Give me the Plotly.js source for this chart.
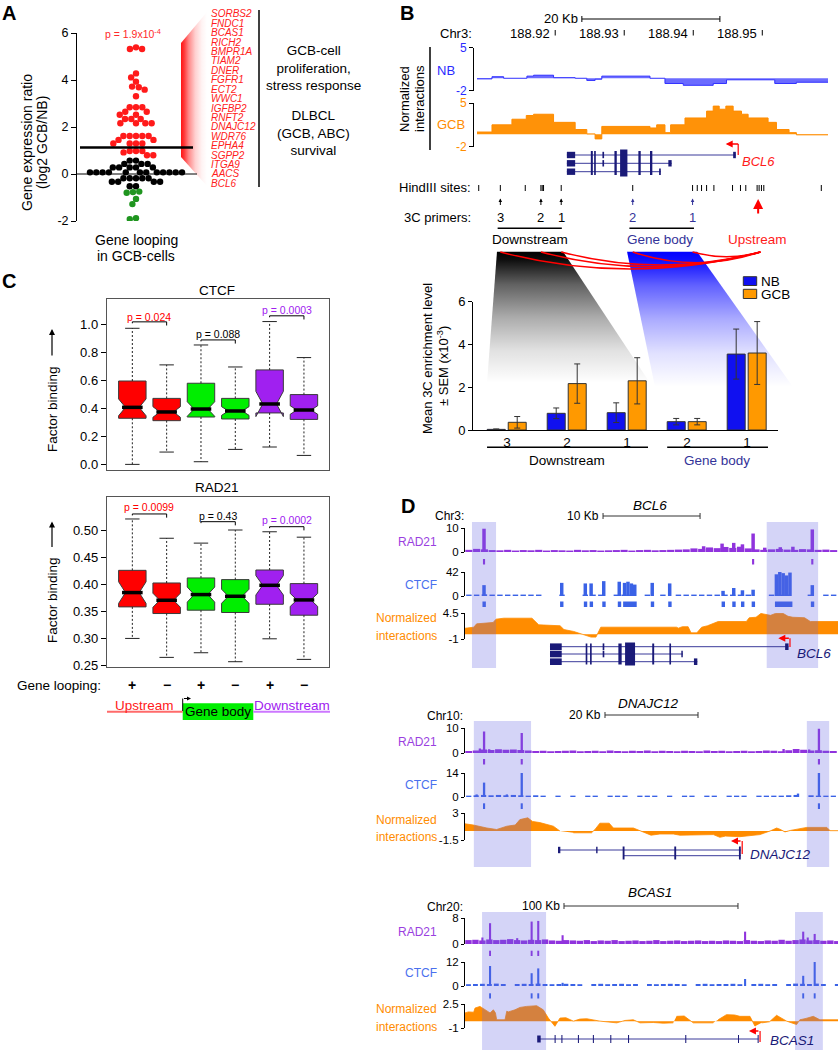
<!DOCTYPE html>
<html>
<head>
<meta charset="utf-8">
<script src="https://cdn.plot.ly/plotly-3.0.1.min.js"></script>
<style>
html,body{margin:0;padding:0;background:#ffffff;}
#chart{width:838px;height:1050px;}
</style>
</head>
<body>
<div id="chart"></div>
<script>
// ======================= DATA =======================
// ---- Panel A: gene expression ratio (log2 GCB/NB) of genes looping in GCB cells
const aRedValues = [5.39,5.32,5.32,4.28,4.11,3.93,3.72,3.69,3.59,3.31,2.84,2.84,2.84,2.65,2.65,2.52,2.52,2.34,2.34,2.34,2.16,2.16,2.16,2.16,1.62,1.62,1.62,1.62,1.62,1.45,1.45,1.3,1.3,1.3,1.3,0.98,0.98,0.98,0.92,0.8,0.8];
const aBlackValues = [0.57,0.57,0.43,0.43,0.43,0.28,0.28,0.28,0.28,0.28,0.07,0.07,0.07,0.07,0.07,0.07,0.07,0.07,0.07,0.07,0.07,0.07,-0.18,-0.18,-0.18,-0.18,-0.18,-0.33,-0.33,-0.33,-0.33,-0.52,-0.52];
const aGreenValues = [-0.75,-0.77,-0.8,-1.06,-1.28,-1.88,-1.92];
const aThreshold = 1.13;
const aYTicks = [-2,0,2,4,6];
const aGenes = ['SORBS2','FNDC1','BCAS1','RICH2','BMPR1A','TIAM2','DNER','FGFR1','ECT2','WWC1','IGFBP2','RNFT2','DNAJC12','WDR76','EPHA4','SGPP2','ITGA9','AACS','BCL6'];

// ---- Panel B (top): normalized interactions at BCL6 locus (Chr3, Mb)
const bCoordTicks = [188.92,188.93,188.94,188.95];
const bNbStarts = [188.90867,188.91084,188.91253,188.91590,188.91687,188.91976,188.92289,188.92458,188.92578,188.92675,188.93373,188.93590,188.93855,188.94289,188.94482,188.95181,188.95494];
const bNbValues = [-0.1,0.25,0.0,0.35,0.5,0.1,0.0,-0.35,-0.15,0.35,0.0,-0.85,-1.15,-0.85,-0.25,-0.85,-0.65];
const bGcbStarts = [188.90867,188.91084,188.91373,188.91581,188.91687,188.91976,188.92289,188.92458,188.92578,188.92675,188.93373,188.93470,188.93590,188.93672,188.93880,188.94193,188.94289,188.94376,188.94472,188.94578,188.94699,188.94795,188.95084,188.95205,188.95388,188.95494];
const bGcbValues = [0.35,1.5,2.4,3.0,3.2,1.9,0.75,0.05,-0.75,1.25,1.0,1.5,0.25,1.5,2.6,3.7,4.5,4.0,4.5,3.7,3.2,2.6,1.9,0.75,0.25,-0.1];
const bTrackEnd = 188.95952;
const bHindIII = [188.90892,188.91205,188.91566,188.91793,188.91812,188.91831,188.92087,188.93123,188.93990,188.94058,188.94120,188.94193,188.94299,188.94569,188.94684,188.94761,188.94925,188.94954,188.94988,188.95022,188.95855];
const bPrimersDown = [188.91205,188.91793,188.92087];
const bPrimersDownLab = ['3','2','1'];
const bPrimersBody = [188.93123,188.93990];
const bPrimersBodyLab = ['2','1'];
const bPrimerUp = 188.94940;
const bGeneStart = 188.92169;
const bGeneRowEnds = [188.94617,188.93687,188.93530];
const bGeneTallExons = [[188.92516,188.92545],[188.92564,188.92588],[188.92858,188.92892],[188.92940,188.93046],[188.93205,188.93239],[188.93373,188.93407]];
const bGeneRowExons = [[[188.92169,188.92289],[188.92684,188.92708],[188.94578,188.94617]],[[188.92169,188.92289],[188.92684,188.92708],[188.93639,188.93687]],[[188.92169,188.92289],[188.93505,188.93530]]];

// ---- Panel B (bottom): mean 3C enrichment (x10^-3) +- SEM
const bBarCats = ['3','2','1','2','1'];
const bNbMean = [0.03,0.78,0.81,0.39,3.55];
const bNbSem = [0.02,0.25,0.46,0.15,1.17];
const bGcbMean = [0.36,2.17,2.30,0.39,3.60];
const bGcbSem = [0.27,0.92,1.08,0.15,1.47];

// ---- Panel C: factor binding box plots
const cLooping = ['+','\u2212','+','\u2212','+','\u2212'];
const ctcfQ1 = [0.329,0.312,0.338,0.324,0.367,0.321];
const ctcfMed = [0.407,0.374,0.395,0.381,0.431,0.388];
const ctcfQ3 = [0.595,0.471,0.579,0.471,0.674,0.498];
const ctcfLow = [0.0,0.088,0.019,0.107,0.124,0.064];
const ctcfHigh = [0.971,0.710,0.852,0.695,1.019,0.762];
const ctcfNotch = [0.06,0.038,0.052,0.031,0.09,0.03];
const ctcfPvals = ['p = 0.024','p = 0.088','p = 0.0003'];
const radQ1 = [0.3589,0.3466,0.3528,0.3485,0.3638,0.3435];
const radMed = [0.3854,0.3712,0.3817,0.3786,0.3989,0.3718];
const radQ3 = [0.4266,0.4032,0.4125,0.4094,0.4272,0.4020];
const radLow = [0.3005,0.2654,0.2740,0.2574,0.2998,0.2617];
const radHigh = [0.5217,0.4860,0.4770,0.5013,0.4980,0.4880];
const radNotch = [0.02,0.013,0.014,0.013,0.018,0.012];
const radPvals = ['p = 0.0099','p = 0.43','p = 0.0002'];

// ---- Panel D: BCL6 locus (kb from track start)
const d1RadBg = [0.9,1.3,1.1,0.8,0.7,0.9,0.6,0.8,0.7,0.9,0.6,0.8,0.7,0.6,0.9,0.7,0.8,0.6,0.7,0.8,0.9,0.6,0.8,0.9,0.7,0.8,0.9,1.0,1.1,1.5,1.3,1.9,1.6,2.1,1.7,2.2,1.5,1.1,0.9,1.1,1.3,1.0,0.9,1.2,1.1,0.9,1.0,0.8];
const d1RadPkX = [1.96,24.6,26.5,27.7,28.6,29.7,30.9,32.5,33.8,35.8];
const d1RadPkY = [9.7,2.4,3.5,3.8,3.2,7.7,1.8,2.0,2.2,9.4];
const d1CtcfBg = [2.5,2.5,3,2.5,2.5,2.5,2.5,2.5,2.5,2.5,0,0,2.5,0,0,2.5,2.5,2.5,0,2.5,2.5,2.5,0,2.5,0,2.5,0,2.5,2.5,2.5,2.5,2.5,2.5,2.5,2.5,2.5,2.5,0,0,2.5,2.5,2.5,0,0,2.5,0,2.5,2.5];
const d1CtcfPkX = [1.96,9.97,12.4,13.0,14.3,15.9,16.45,16.8,17.15,17.5,19.3,21.1,26.6,27.7,28.6,29.7,32.1,32.45,32.8,33.15,33.5,35.8];
const d1CtcfPkY = [19,23,22,22,26,25,23,25,22,20,23,22,9,14,10,11,38,42,40,36,41,19];
const d1NormX = [0,0.9,1.2,2.0,2.9,3.2,4.0,6.9,7.6,9.8,10.2,11.2,12.2,13.0,13.5,14.0,21.8,22.0,22.4,23.0,23.3,23.9,24.4,25.0,26.1,29.0,29.3,30.0,30.5,31.1,31.5,32.0,32.8,33.3,33.8,35.0,35.6,38.45];
const d1NormY = [1.27,1.5,2.2,2.3,2.5,3.2,3.4,3.4,2.0,1.8,1.0,0.6,-0.1,-0.6,-0.6,1.5,1.5,1.3,1.6,1.6,0.3,0.3,1.5,1.8,2.7,2.7,3.5,3.6,4.4,4.2,4.0,4.4,4.4,3.8,3.6,3.5,2.7,2.7];
const d1RadMarks = [1.96,29.7,35.8];
const d1CtcfMarks = [[1.8,2.15],[9.8,10.15],[12.25,12.6],[12.85,13.2],[14.15,14.5],[15.75,16.1],[16.3,17.7],[19.15,19.5],[20.95,21.3],[26.45,26.8],[27.55,27.9],[28.45,28.8],[29.55,29.9],[31.95,33.75],[35.65,36.0]];
const d1Shade = [[0.72,3.2],[31.1,36.4]];
const d1GeneStart = 8.76;
const d1GeneRowEnds = [33.35,22.45,23.95];
const d1GeneTallExons = [[12.44,12.61],[12.89,13.06],[15.81,16.15],[16.5,17.53],[19.3,19.5],[21.07,21.24]];
const d1GeneRowExons = [[[8.76,9.97],[14.19,14.36],[33.0,33.35]],[[8.76,9.97],[14.19,14.36],[22.3,22.45]],[[8.76,9.97],[23.6,23.95]]];

// ---- Panel D: DNAJC12 locus
const d2RadBg = [0.8,1.0,1.4,1.2,1.5,1.3,1.4,1.2,1.0,0.8,0.9,0.7,0.8,0.9,1.0,0.7,0.8,0.9,0.7,1.0,0.8,0.7,0.9,0.8,1.0,0.7,0.9,0.8,0.7,0.9,0.8,0.7,1.0,0.8,0.9,0.7,0.8,0.9,0.7,0.8,1.0,0.9,0.7,1.1,1.6,1.3,1.0,1.1,0.9,0.8];
const d2RadPkX = [3.2,4.1,5.2,12.2,68.5,74.0,76.1];
const d2RadPkY = [1.8,8.6,1.5,8.0,1.6,1.4,9.7];
const d2CtcfBg = [0.8,1.0,1.2,1.0,1.2,1.0,1.2,1.0,0.8,1.0,0.8,0,0.8,0,0.8,0,0.8,0.8,0,0.8,0.8,0.8,0,0.8,0.8,0.8,0,0.8,0,0.8,0.8,0,0.8,0.8,0,0.8,0.8,0.8,0,0.8,0.8,0.8,0.8,1.0,1.2,0,1.0,0.8,0.8,0.8];
const d2CtcfPkX = [2.5,4.1,9.0,12.2,71.6,76.1];
const d2CtcfPkY = [1.5,8.4,1.5,14,2.0,14];
const d2NormX = [0,1.8,4.7,6.8,9.0,10.8,11.8,13.5,14.5,16.1,19.0,20.4,20.41,23.3,27.2,28.0,29.0,31.0,31.9,36.2,38.0,40.0,41.9,44.8,46.2,53.4,54.8,56.0,59.1,63.4,65.6,67.0,67.7,68.8,70.0,73.5,77.8,78.5,80.2];
const d2NormY = [1.2,1.0,0.5,0.25,0.8,1.0,1.9,2.2,1.6,1.4,0.8,0,null,-0.3,-0.3,0.3,1.3,1.3,0.5,0.5,-0.1,-0.7,-0.5,-0.5,-0.7,-0.6,-1.05,-0.85,-0.95,-0.6,0.0,0.5,0.3,-0.15,0.1,0.6,0.6,0.05,0.05];
const d2RadMarks = [4.1,12.2,76.1];
const d2CtcfMarks = [4.1,12.2,76.1];
const d2Shade = [[1.9,14.2],[73.5,78.3]];
const d2GeneRows = [[20.1,59.3],[34.0,59.3]];
const d2GeneRowExons = [[[20.0,20.5],[28.2,28.5]],[]];
const d2GeneTallExons = [[33.9,34.3],[45.0,45.4],[58.9,59.3]];

// ---- Panel D: BCAS1 locus
const d3RadBg = [1.2,1.3,1.1,1.4,1.2,1.3,1.5,1.2,1.1,1.3,1.2,1.4,1.1,1.0,1.2,1.1,1.0,1.2,0.9,1.1,1.0,1.2,0.9,1.0,1.1,0.9,1.0,1.2,0.9,1.0,1.1,0.9,1.0,1.1,0.9,1.0,0.9,1.1,1.0,0.9,1.2,1.0,0.9,1.1,1.0,1.3,1.0,1.2,1.4,1.1,1.2,1.0,1.1,0.9];
const d3RadPkX = [10,14.4,30,38.3,42.1,56.1,161,194.4,197,201];
const d3RadPkY = [2.0,6.4,1.8,6.9,7.1,2.7,3.8,3.8,2.0,3.1];
const d3CtcfBg = [0.9,1.0,1.1,1.0,1.2,1.0,0,1.0,1.1,1.0,1.2,1.0,0.9,1.0,1.1,1.0,0.9,0,1.0,1.1,0.9,1.0,1.1,0.9,1.0,0,1.0,0.9,1.0,1.1,1.0,0.9,0,1.0,1.1,0.9,1.0,1.0,1.1,0.9,0,1.0,1.1,0.9,1.0,0,1.0,1.2,1.1,1.0,1.2,1.0,0,1.0];
const d3CtcfPkX = [14.4,38.3,42.1,56.1,161,194.4,201];
const d3CtcfPkY = [10,6.4,8.8,1.6,3.5,5.1,12];
const d3NormX = [0,1.9,5.0,5.75,8.6,11.5,14.4,16.3,17.5,18.2,23.0,24.0,24.9,28.7,31.6,35.4,41.2,45.0,47.9,51.7,54.6,58.0,62.3,66.0,70.0,77.6,82.0,87.2,92.0,96.7,100.6,108.2,114.0,119.7,120.6,121.6,126.0,131.2,142.7,144.0,145.5,150.3,155.0,158.0,163.8,166.7,168.5,170.5,175.0,179.1,184.9,190.6,192.5,196.0,200.2,204.0,214.4];
const d3NormY = [1.2,1.35,1.3,1.9,2.15,1.65,1.2,1.65,1.2,0.2,0.2,1.45,1.35,1.65,2.0,2.15,2.25,1.65,0.45,-0.75,0.45,0.5,0.0,0.3,0.35,0.0,-0.1,-0.25,0.1,0.2,-0.25,-0.2,-0.3,-0.25,null,0.7,0.75,-0.25,-0.25,null,0.2,0.95,0.9,0.7,0.7,-0.75,null,-0.25,-0.1,0.85,0.0,-0.5,0.2,0.4,0.7,0.2,0.2];
const d3RadMarks = [14.4,38.3,42.1];
const d3CtcfMarks = [14.4,38.3,42.1,194.4,201];
const d3Shade = [[9.8,46.6],[189.7,205.7]];
const d3GeneRow = [42.1,168.6];
const d3GeneExons = [[41.5,43.5],[51.5,52.1],[55.4,56.0],[64.9,65.5],[73.5,74.1],[83.5,84.1],[93.7,94.3],[126.6,127.2],[156.9,157.5],[168.2,168.8]];

// ======================= HELPERS =======================
const W = 838, H = 1050;
const X = p => p / W, Y = p => 1 - p / H;
const FONT = 'Liberation Sans, Arial, Helvetica, sans-serif';
const NAVY = '#1a1a78';
const ann = [], shp = [], data = [], imgs = [];

function T(px, py, text, size, color, o) {
  o = o || {};
  ann.push({xref: o.xref || 'paper', yref: 'paper', x: o.xref ? px : X(px), y: Y(py), text: text,
    showarrow: false, xanchor: o.xa || 'center', yanchor: 'middle', textangle: o.ang || 0, xshift: o.xs || 0,
    font: {family: FONT, size: size || 13, color: color || '#000'}});
}
function LN(x0, y0, x1, y1, color, w, o) {
  o = o || {};
  shp.push({type: 'line', xref: o.xref || 'paper', yref: o.yref || 'paper',
    x0: o.xref ? x0 : X(x0), x1: o.xref ? x1 : X(x1), y0: o.yref ? y0 : Y(y0), y1: o.yref ? y1 : Y(y1),
    line: {color: color, width: w || 1, dash: o.dash || 'solid'}, layer: o.layer || 'above'});
}
function RC(x0, y0, x1, y1, fill, o) {
  o = o || {};
  shp.push({type: 'rect', xref: o.xref || 'paper', yref: 'paper',
    x0: o.xref ? x0 : X(x0), x1: o.xref ? x1 : X(x1), y0: Y(y0), y1: Y(y1),
    fillcolor: fill, line: {width: o.lw || 0, color: o.lc || fill}, layer: o.layer || 'above'});
}
function AR(xv, hy, dx, dy, color, w, head, size, xref) {
  ann.push({xref: xref || 'paper', yref: 'paper', x: xref ? xv : X(xv), y: Y(hy), ax: dx, ay: dy,
    axref: 'pixel', ayref: 'pixel', text: '', showarrow: true, arrowhead: head || 2, arrowsize: size || 1,
    arrowwidth: w || 1, arrowcolor: color});
}
// gradient-filled polygon drawn as an SVG image (pts in page pixels)
function gradPoly(pts, rgb, vertical, stops) {
  const xs = pts.map(p => p[0]), ys = pts.map(p => p[1]);
  const l = Math.min.apply(null, xs), r = Math.max.apply(null, xs), t = Math.min.apply(null, ys), b = Math.max.apply(null, ys);
  const w = r - l, h = b - t;
  const g = vertical ? 'x1="0" y1="0" x2="0" y2="1"' : 'x1="0" y1="0" x2="1" y2="0"';
  const st = stops.map(s => '<stop offset="' + s[0] + '" stop-color="rgb(' + rgb + ')" stop-opacity="' + s[1] + '"/>').join('');
  const poly = pts.map(p => (p[0] - l).toFixed(2) + ',' + (p[1] - t).toFixed(2)).join(' ');
  const svg = '<svg xmlns="http://www.w3.org/2000/svg" width="' + w + '" height="' + h + '" viewBox="0 0 ' + w + ' ' + h + '" preserveAspectRatio="none">' +
    '<defs><linearGradient id="g" ' + g + '>' + st + '</linearGradient></defs><polygon points="' + poly + '" fill="url(#g)"/></svg>';
  imgs.push({source: 'data:image/svg+xml;charset=utf-8,' + encodeURIComponent(svg), xref: 'paper', yref: 'paper',
    x: X(l), y: Y(t), sizex: w / W, sizey: h / H, xanchor: 'left', yanchor: 'top', sizing: 'stretch', layer: 'below'});
}
function swarm(vals, pxPerUnit, d) {
  const idx = vals.map((v, i) => i).sort((a, b) => vals[b] - vals[a]);
  const placed = [], xs = new Array(vals.length);
  for (const i of idx) {
    const y = vals[i] * pxPerUnit;
    const cands = [0];
    for (const p of placed) {
      const dy = Math.abs(p.y - y);
      if (dy < d) { const dx = Math.sqrt(d * d - dy * dy); cands.push(p.x + dx, p.x - dx); }
    }
    cands.sort((a, b) => (Math.abs(a) - Math.abs(b)) || (a - b));
    let x = 0;
    for (const c of cands) {
      if (placed.every(p => (p.x - c) * (p.x - c) + (p.y - y) * (p.y - y) >= d * d - 1e-6)) { x = c; break; }
    }
    placed.push({x: x, y: y}); xs[i] = x;
  }
  return xs;
}
function yax(top, bot, range, tickvals, ticktext, anchor, o) {
  o = o || {};
  return {domain: [Y(bot), Y(top)], range: range, anchor: anchor, position: o.pos,
    showline: true, linecolor: '#000', linewidth: 1, ticks: 'outside', ticklen: o.tl || 3, tickwidth: 1, tickcolor: '#000',
    tickvals: tickvals, ticktext: ticktext, showgrid: false, zeroline: false, fixedrange: true,
    tickfont: {family: FONT, size: o.fs || 11.5, color: o.color || '#000'}};
}
const hidX = (l, r, range, anchor) => ({domain: [X(l), X(r)], range: range, anchor: anchor, visible: false, fixedrange: true});

// ======================= PANEL LETTERS =======================
T(9, 13, '<b>A</b>', 20); T(407, 13, '<b>B</b>', 20); T(9, 281, '<b>C</b>', 20); T(408, 506, '<b>D</b>', 20);

// ======================= PANEL A =======================
const aAll = aRedValues.concat(aBlackValues, aGreenValues);
const aOff = swarm(aAll, 23.5, 6.3);
const nR = aRedValues.length, nB = aBlackValues.length;
data.push({type: 'scatter', mode: 'markers', xaxis: 'x', yaxis: 'y', x: aOff.slice(0, nR), y: aRedValues, marker: {size: 6.4, color: '#ff1a1a'}, hoverinfo: 'skip'});
data.push({type: 'scatter', mode: 'markers', xaxis: 'x', yaxis: 'y', x: aOff.slice(nR, nR + nB), y: aBlackValues, marker: {size: 6.4, color: '#000000'}, hoverinfo: 'skip'});
data.push({type: 'scatter', mode: 'markers', xaxis: 'x', yaxis: 'y', x: aOff.slice(nR + nB), y: aGreenValues, marker: {size: 6.4, color: '#1f951f'}, hoverinfo: 'skip'});
shp.push({type: 'line', xref: 'paper', yref: 'y', x0: X(76), x1: X(197), y0: 0, y1: 0, line: {color: '#000', width: 1}, layer: 'below'});
shp.push({type: 'line', xref: 'paper', yref: 'y', x0: X(80), x1: X(193), y0: aThreshold, y1: aThreshold, line: {color: '#000', width: 2.5}});
T(133, 33, 'p = 1.9x10<sup>-4</sup>', 10.5, '#ff2a2a');
T(27, 143, 'Gene expression ratio', 14, '#000', {ang: -90});
T(42, 143, '(log2 GCB/NB)', 14, '#000', {ang: -90});
T(136, 240, 'Gene looping', 14); T(136, 256, 'in GCB-cells', 14);
gradPoly([[181, 43], [207, 12], [207, 186], [181, 157]], '255,20,20', false, [[0, 1], [0.12, 0.85], [0.3, 0.5], [0.55, 0.2], [0.8, 0.05], [1, 0]]);
aGenes.forEach((g, i) => T(209, 14 + i * 9.4, '<i>' + g + '</i>', 10, '#ff2020', {xa: 'left'}));
LN(259, 10, 259, 187, '#000', 1.5);
T(313, 68, 'GCB-cell<br>proliferation,<br>stress response', 13.5);
T(313, 133, 'DLBCL<br>(GCB, ABC)<br>survival', 13.5);

// ======================= PANEL B top =======================
data.push({type: 'scatter', mode: 'lines', xaxis: 'x2', yaxis: 'y2', x: bNbStarts.concat([bTrackEnd]), y: bNbValues.concat([bNbValues[bNbValues.length - 1]]),
  line: {shape: 'hv', color: '#3030ff', width: 1}, fill: 'tozeroy', fillcolor: 'rgba(70,70,255,0.8)', hoverinfo: 'skip'});
data.push({type: 'scatter', mode: 'lines', xaxis: 'x2', yaxis: 'y3', x: bGcbStarts.concat([bTrackEnd]), y: bGcbValues.concat([bGcbValues[bGcbValues.length - 1]]),
  line: {shape: 'hv', color: '#ff8c00', width: 1}, fill: 'tozeroy', fillcolor: '#ff9208', hoverinfo: 'skip'});
LN(188.92386, 19, 188.94386, 19, '#000', 1, {xref: 'x2'});
LN(188.92386, 16, 188.92386, 22, '#000', 1, {xref: 'x2'});
LN(188.94386, 16, 188.94386, 22, '#000', 1, {xref: 'x2'});
T(188.92386, 19, '20 Kb', 13, '#000', {xref: 'x2', xa: 'right', xs: -2});
T(456, 33, 'Chr3:', 13);
bCoordTicks.forEach(t => { T(t, 33, t.toFixed(2), 13, '#000', {xref: 'x2', xa: 'right', xs: -3}); LN(t, 30, t, 35.5, '#000', 1, {xref: 'x2'}); });
T(404, 99, 'Normalized', 13, '#000', {ang: -90}); T(419, 99, 'interactions', 13, '#000', {ang: -90});
LN(430, 47, 430, 150, '#000', 1.5);
T(446, 71, 'NB', 13, '#2a2aff'); T(451, 124, 'GCB', 13, '#ff8c00');
const bRowY = [155, 163.3, 171.7];
bRowY.forEach((yy, r) => {
  LN(bGeneStart, yy, bGeneRowEnds[r], yy, '#3a3a9a', 1, {xref: 'x2'});
  bGeneRowExons[r].forEach(e => RC(e[0], yy - 3.2, e[1], yy + 3.2, NAVY, {xref: 'x2'}));
});
bGeneTallExons.forEach((e, k) => RC(e[0], k === 3 ? 149.5 : 151, e[1], k === 3 ? 176.5 : 175, NAVY, {xref: 'x2'}));
LN(188.94651, 155, 188.94651, 144, '#ff0000', 1.2, {xref: 'x2'});
AR(188.94470, 144, 14, 0, '#ff0000', 1.4, 2, 1, 'x2');
T(758, 161.7, '<i>BCL6</i>', 13, '#ff1a1a');
T(473, 188, 'HindIII sites:', 13, '#000', {xa: 'right'});
bHindIII.forEach(h => LN(h, 185, h, 191, '#000', 1, {xref: 'x2'}));
T(473, 217, '3C primers:', 13, '#000', {xa: 'right'});
bPrimersDown.forEach((p, i) => { AR(p, 198.5, 0, 8, '#000', 1, 2, 0.7, 'x2'); T(p, 217, bPrimersDownLab[i], 13, '#000', {xref: 'x2'}); });
bPrimersBody.forEach((p, i) => { AR(p, 198.5, 0, 8, '#333399', 1, 2, 0.7, 'x2'); T(p, 217, bPrimersBodyLab[i], 13, '#333399', {xref: 'x2'}); });
AR(bPrimerUp, 199, 0, 16, '#ff0000', 2, 2, 1, 'x2');
LN(188.91166, 228.3, 188.92096, 228.3, '#000', 1.5, {xref: 'x2'});
LN(188.93075, 228.3, 188.94010, 228.3, '#000', 1.5, {xref: 'x2'});
T(188.91629, 240, 'Downstream', 13.5, '#000', {xref: 'x2'});
T(188.93518, 240, 'Gene body', 13.5, '#333399', {xref: 'x2'});
T(188.94925, 240, 'Upstream', 13.5, '#ff1a1a', {xref: 'x2'});
gradPoly([[497, 251.5], [563, 251.5], [650, 383], [487, 383]], '0,0,0', true, [[0, 1], [0.06, 0.95], [0.25, 0.62], [0.5, 0.33], [0.75, 0.12], [1, 0]]);
gradPoly([[627, 251.5], [697, 251.5], [793, 387], [655, 387]], '0,0,255', true, [[0, 1], [0.06, 0.95], [0.25, 0.62], [0.5, 0.33], [0.75, 0.12], [1, 0]]);
const bArcTargets = bPrimersDown.concat(bPrimersBody);
const bArcDepth = [17, 14.7, 13, 10.7, 4.7];
const bUpX = 188.94973;
bArcTargets.forEach((t, i) => {
  shp.push({type: 'path', xref: 'x2', yref: 'paper',
    path: 'M ' + t + ',' + Y(252) + ' Q ' + ((t + bUpX) / 2) + ',' + Y(252 + 2 * bArcDepth[i]) + ' ' + bUpX + ',' + Y(252),
    line: {color: '#ff0000', width: 1.5}, fillcolor: 'rgba(0,0,0,0)', layer: 'above'});
});

// ======================= PANEL B bars =======================
const bPos = bBarCats.map((c, i) => i);
data.push({type: 'bar', xaxis: 'x3', yaxis: 'y4', x: bPos, y: bNbMean, offset: -0.33, width: 0.3,
  marker: {color: '#1010f0', line: {color: '#333', width: 1}},
  error_y: {type: 'data', array: bNbSem, color: '#333', thickness: 1, width: 3}, hoverinfo: 'skip'});
data.push({type: 'bar', xaxis: 'x3', yaxis: 'y4', x: bPos, y: bGcbMean, offset: 0.02, width: 0.3,
  marker: {color: '#ff9900', line: {color: '#333', width: 1}},
  error_y: {type: 'data', array: bGcbSem, color: '#333', thickness: 1, width: 3}, hoverinfo: 'skip'});
RC(743.3, 276.7, 756.7, 285.5, '#1010f0', {lw: 1, lc: '#333'});
RC(743.3, 289.3, 756.7, 298.5, '#ff9900', {lw: 1, lc: '#333'});
T(759, 281, 'NB', 13.5, '#000', {xa: 'left'}); T(759, 294, 'GCB', 13.5, '#000', {xa: 'left'});
T(428, 358, 'Mean 3C enrichment level', 13, '#000', {ang: -90});
T(443, 366, '\u00b1 SEM (x10<sup>-3</sup>)', 13, '#000', {ang: -90});
shp.push({type: 'line', xref: 'x3', yref: 'paper', x0: -0.333, x1: 2.35, y0: Y(447.3), y1: Y(447.3), line: {color: '#000', width: 1.5}});
shp.push({type: 'line', xref: 'x3', yref: 'paper', x0: 2.67, x1: 4.35, y0: Y(447.3), y1: Y(447.3), line: {color: '#000', width: 1.5}});
T(1, 460, 'Downstream', 13.5, '#000', {xref: 'x3'});
T(3.5, 460, 'Gene body', 13.5, '#333399', {xref: 'x3'});

// ======================= PANEL C =======================
const cPos = cLooping.map((c, i) => i);
const cColors = ['#ff0000', '#00ee00', '#a020f0'];
function boxPanel(xa, ya, q1, med, q3, lo, hi, notch) {
  for (let g = 0; g < 3; g++) {
    const ix = [2 * g, 2 * g + 1];
    data.push({type: 'box', xaxis: xa, yaxis: ya, x: ix.map(i => cPos[i]), q1: ix.map(i => q1[i]), median: ix.map(i => med[i]),
      q3: ix.map(i => q3[i]), lowerfence: ix.map(i => q1[i]), upperfence: ix.map(i => q3[i]),
      notched: true, notchspan: ix.map(i => notch[i]), notchwidth: 0.25, width: 0.8, whiskerwidth: 0,
      fillcolor: cColors[g], line: {color: '#3a3a3a', width: 1}, hoverinfo: 'skip'});
  }
  const wx = [], wy = [], cx = [], cy = [], mx = [], my = [];
  cPos.forEach(i => {
    wx.push(i, i, null, i, i, null); wy.push(q3[i], hi[i], null, q1[i], lo[i], null);
    cx.push(i - 0.21, i + 0.21, null, i - 0.21, i + 0.21, null); cy.push(hi[i], hi[i], null, lo[i], lo[i], null);
    mx.push(i - 0.3, i + 0.3, null); my.push(med[i], med[i], null);
  });
  data.push({type: 'scatter', mode: 'lines', xaxis: xa, yaxis: ya, x: wx, y: wy, line: {color: '#222', width: 1, dash: '2px,2px'}, hoverinfo: 'skip'});
  data.push({type: 'scatter', mode: 'lines', xaxis: xa, yaxis: ya, x: cx, y: cy, line: {color: '#222', width: 1}, hoverinfo: 'skip'});
  data.push({type: 'scatter', mode: 'lines', xaxis: xa, yaxis: ya, x: mx, y: my, line: {color: '#000', width: 3.5}, hoverinfo: 'skip'});
}
boxPanel('x4', 'y5', ctcfQ1, ctcfMed, ctcfQ3, ctcfLow, ctcfHigh, ctcfNotch);
boxPanel('x5', 'y6', radQ1, radMed, radQ3, radLow, radHigh, radNotch);
const pColors = ['#ff0000', '#000000', '#a020f0'];
function pBracket(xa, ya, g, txt, yText, yLine, tick) {
  const a = 2 * g, b = 2 * g + 1;
  shp.push({type: 'path', xref: xa, yref: ya, path: 'M ' + a + ',' + (yLine - tick * 0.4) + ' L ' + a + ',' + yLine + ' L ' + b + ',' + yLine + ' L ' + b + ',' + (yLine - tick),
    line: {color: '#000', width: 1}, fillcolor: 'rgba(0,0,0,0)'});
  ann.push({xref: xa, yref: ya, x: a + 0.5, y: yText, text: txt, showarrow: false, xanchor: 'center', yanchor: 'middle',
    font: {family: FONT, size: 10.5, color: pColors[g]}});
}
[[1.052, 1.017], [0.931, 0.888], [1.10, 1.06]].forEach((p, g) => pBracket('x4', 'y5', g, ctcfPvals[g], p[0], p[1], 0.026));
[[0.5435, 0.531], [0.5272, 0.5167], [0.5198, 0.5074]].forEach((p, g) => pBracket('x5', 'y6', g, radPvals[g], p[0], p[1], 0.0068));
T(217, 290, 'CTCF', 13.5); T(217, 488, 'RAD21', 13.5);
T(52, 409, 'Factor binding', 13.5, '#000', {ang: -90}); AR(52, 329, 0, 28, '#000', 1.2, 2, 1);
T(52, 600, 'Factor binding', 13.5, '#000', {ang: -90}); AR(52, 521.5, 0, 27, '#000', 1.2, 2, 1);
T(103, 685, 'Gene looping:', 13.5, '#000', {xa: 'right'});
cLooping.forEach((s, i) => T(i, 685, '<b>' + s + '</b>', 14, '#000', {xref: 'x5'}));
RC(182.7, 703.3, 253.3, 720, '#00ee00');
T(144, 705, 'Upstream', 13.5, '#ff2020'); LN(107, 711.7, 182.7, 711.7, '#ff6a6a', 2);
T(218, 711.5, 'Gene body', 13.5, '#000');
T(292, 705, 'Downstream', 13.5, '#a020f0'); LN(253.3, 711.7, 330, 711.7, '#cc77ff', 2);
LN(182.7, 711, 182.7, 698.5, '#000', 1);
AR(191, 698.5, -8.5, 0, '#000', 1, 2, 0.8);

// ======================= PANEL D =======================
const RADC = '#9033dd', CTCFC = '#3a62e6', ORG = '#ff8c00', SHADE = 'rgba(100,100,228,0.28)';
function locus(xa, yR, yC, yN, bin, radBg, radPkX, radPkY, ctcfBg, ctcfPkX, ctcfPkY, pkW, normX, normY) {
  data.push({type: 'bar', xaxis: xa, yaxis: yR, x: radBg.map((v, i) => (i + 0.5) * bin), y: radBg, width: bin * 0.92, marker: {color: RADC, line: {width: 0}}, hoverinfo: 'skip'});
  data.push({type: 'bar', xaxis: xa, yaxis: yR, x: radPkX, y: radPkY, width: pkW, marker: {color: RADC, line: {width: 0}}, hoverinfo: 'skip'});
  data.push({type: 'bar', xaxis: xa, yaxis: yC, x: ctcfBg.map((v, i) => (i + 0.5) * bin), y: ctcfBg, width: bin * 0.7, marker: {color: CTCFC, line: {width: 0}}, hoverinfo: 'skip'});
  data.push({type: 'bar', xaxis: xa, yaxis: yC, x: ctcfPkX, y: ctcfPkY, width: pkW, marker: {color: CTCFC, line: {width: 0}}, hoverinfo: 'skip'});
  data.push({type: 'scatter', mode: 'lines', xaxis: xa, yaxis: yN, x: normX, y: normY, connectgaps: false,
    line: {color: ORG, width: 0.8}, fill: 'tozeroy', fillcolor: ORG, hoverinfo: 'skip'});
}
function trackLabels(yR, yC, yN1, yN2) {
  T(439, yR, 'RAD21', 12, '#9a3fe0', {xa: 'right'});
  T(439, yC, 'CTCF', 12, '#4a70ee', {xa: 'right'});
  T(439, yN1, 'Normalized', 12, ORG, {xa: 'right'});
  T(439, yN2, 'interactions', 12, ORG, {xa: 'right'});
}
function markList(xa, list, wKb, y0, y1, color) {
  list.forEach(m => {
    const s = Array.isArray(m) ? m[0] : m - wKb / 2, e = Array.isArray(m) ? m[1] : m + wKb / 2;
    RC(s, y0, e, y1, color, {xref: xa});
  });
}
function scaleBar(xa, x0, len, py, label) {
  LN(x0, py, x0 + len, py, '#333', 1, {xref: xa});
  LN(x0, py - 3, x0, py + 3, '#333', 1, {xref: xa});
  LN(x0 + len, py - 3, x0 + len, py + 3, '#333', 1, {xref: xa});
  T(x0, py, label, 12, '#000', {xref: xa, xa: 'right', xs: -2});
}

// Locus 1 - BCL6
locus('x6', 'y7', 'y8', 'y9', 0.8, d1RadBg, d1RadPkX, d1RadPkY, d1CtcfBg, d1CtcfPkX, d1CtcfPkY, 0.36, d1NormX, d1NormY);
T(650, 505, '<i>BCL6</i>', 13.5);
T(466, 516, 'Chr3:', 12, '#000', {xa: 'right'});
scaleBar('x6', 14.23, 10, 516, '10 Kb');
trackLabels(542, 585, 618, 636);
markList('x6', d1RadMarks, 0.22, 559, 564.5, RADC);
markList('x6', d1CtcfMarks, 0.36, 601.5, 607, CTCFC);
d1Shade.forEach(s => RC(s[0], 522, s[1], 668, SHADE, {xref: 'x6'}));
[646.7, 654, 661.7].forEach((yy, r) => {
  LN(d1GeneStart, yy, d1GeneRowEnds[r], yy, '#3a3a9a', 1, {xref: 'x6'});
  d1GeneRowExons[r].forEach(e => RC(e[0], yy - 3.3, e[1], yy + 3.3, NAVY, {xref: 'x6'}));
});
d1GeneTallExons.forEach((e, k) => RC(e[0], k === 3 ? 642.5 : 643.5, e[1], k === 3 ? 665.5 : 664.5, NAVY, {xref: 'x6'}));
LN(33.5, 647, 33.5, 638.3, '#ff0000', 1.2, {xref: 'x6'});
AR(32.3, 638.3, 12, 0, '#ff0000', 1.4, 2, 1, 'x6');
T(795, 653, '<i>BCL6</i>', 13.5, NAVY, {xa: 'left'});

// Locus 2 - DNAJC12
locus('x7', 'y10', 'y11', 'y12', 1.6, d2RadBg, d2RadPkX, d2RadPkY, d2CtcfBg, d2CtcfPkX, d2CtcfPkY, 0.5, d2NormX, d2NormY);
T(648, 703, '<i>DNAJC12</i>', 13.5);
T(465, 716, 'Chr10:', 12, '#000', {xa: 'right'});
scaleBar('x7', 30.1, 20, 715, '20 Kb');
trackLabels(742, 785, 820, 837);
markList('x7', d2RadMarks, 0.45, 759, 764.5, RADC);
markList('x7', d2CtcfMarks, 0.45, 803.3, 809, CTCFC);
d2Shade.forEach(s => RC(s[0], 721, s[1], 867, SHADE, {xref: 'x7'}));
[850, 855.7].forEach((yy, r) => {
  LN(d2GeneRows[r][0], yy, d2GeneRows[r][1], yy, '#3a3a9a', 1, {xref: 'x7'});
  d2GeneRowExons[r].forEach(e => RC(e[0], yy - 3.2, e[1], yy + 3.2, NAVY, {xref: 'x7'}));
});
d2GeneTallExons.forEach(e => RC(e[0], 846.5, e[1], 859.5, NAVY, {xref: 'x7'}));
LN(59.6, 854, 59.6, 841, '#ff0000', 1.2, {xref: 'x7'});
AR(57.2, 841, 11, 0, '#ff0000', 1.4, 2, 1, 'x7');
T(748, 854, '<i>DNAJC12</i>', 13.5, NAVY, {xa: 'left'});

// Locus 3 - BCAS1
locus('x8', 'y13', 'y14', 'y15', 4.0, d3RadBg, d3RadPkX, d3RadPkY, d3CtcfBg, d3CtcfPkX, d3CtcfPkY, 1.2, d3NormX, d3NormY);
T(650, 892, '<i>BCAS1</i>', 13.5);
T(465, 907, 'Chr20:', 12, '#000', {xa: 'right'});
scaleBar('x8', 56.9, 100, 906, '100 Kb');
trackLabels(932, 973, 1009, 1027);
markList('x8', d3RadMarks, 1.1, 950.7, 956, RADC);
markList('x8', d3CtcfMarks, 1.1, 993.3, 998.5, CTCFC);
d3Shade.forEach(s => RC(s[0], 912, s[1], 1050, SHADE, {xref: 'x8'}));
LN(d3GeneRow[0], 1039, d3GeneRow[1], 1039, '#3a3a9a', 1, {xref: 'x8'});
d3GeneExons.forEach((e, k) => RC(e[0], k === 0 ? 1035.5 : 1035, e[1], k === 0 ? 1042.5 : 1043, NAVY, {xref: 'x8'}));
LN(169.6, 1042, 169.6, 1031, '#ff0000', 1.2, {xref: 'x8'});
AR(163.2, 1031, 11, 0, '#ff0000', 1.4, 2, 1, 'x8');
T(768, 1040.5, '<i>BCAS1</i>', 13.5, NAVY, {xa: 'left'});

// ======================= LAYOUT =======================
const layout = {
  width: W, height: H, margin: {l: 0, r: 0, t: 0, b: 0}, showlegend: false,
  paper_bgcolor: '#ffffff', plot_bgcolor: 'rgba(0,0,0,0)', barmode: 'overlay', boxmode: 'overlay',
  font: {family: FONT, size: 12, color: '#000'},
  xaxis: hidX(76, 196, [-60, 60], 'y'),
  yaxis: yax(33, 221, [-2, 6], aYTicks, aYTicks.map(String), 'free', {pos: X(76), tl: 5, fs: 12.5}),
  xaxis2: hidX(477, 828, [bNbStarts[0], bTrackEnd], 'y2'),
  yaxis2: yax(47.7, 90.5, [-2, 5], [-2, 5], ['-2', '5'], 'free', {pos: X(473), tl: 4, fs: 12, color: '#2a2aff'}),
  yaxis3: yax(103, 146.7, [-2, 5], [-2, 5], ['-2', '5'], 'free', {pos: X(473), tl: 4, fs: 12, color: '#ff8c00'}),
  xaxis3: {domain: [X(473), X(778)], range: [-0.567, 4.517], anchor: 'y4', showline: true, linecolor: '#000', linewidth: 1,
    ticks: '', tickvals: bPos, ticktext: bBarCats, showgrid: false, zeroline: false, fixedrange: true,
    tickfont: {family: FONT, size: 13.5, color: '#000'}},
  yaxis4: yax(301.7, 430, [0, 6], [0, 2, 4, 6], ['0', '2', '4', '6'], 'x3', {tl: 4, fs: 13}),
  xaxis4: {domain: [X(107), X(329)], range: [-0.738, 5.73], anchor: 'y5', showline: true, mirror: true, linecolor: '#555', linewidth: 1.2,
    ticks: '', showticklabels: false, showgrid: false, zeroline: false, fixedrange: true},
  yaxis5: Object.assign(yax(299, 470, [-0.04, 1.18], [0, 0.2, 0.4, 0.6, 0.8, 1.0], ['0.0', '0.2', '0.4', '0.6', '0.8', '1.0'], 'x4', {tl: 5, fs: 13}), {mirror: true, linecolor: '#555', linewidth: 1.2}),
  xaxis5: {domain: [X(107), X(329)], range: [-0.738, 5.73], anchor: 'y6', showline: true, mirror: true, linecolor: '#555', linewidth: 1.2,
    ticks: '', showticklabels: false, showgrid: false, zeroline: false, fixedrange: true},
  yaxis6: Object.assign(yax(497, 667, [0.2476, 0.5624], [0.25, 0.30, 0.35, 0.40, 0.45, 0.50], ['0.25', '0.30', '0.35', '0.40', '0.45', '0.50'], 'x5', {tl: 5, fs: 13}), {mirror: true, linecolor: '#555', linewidth: 1.2}),
  xaxis6: hidX(465, 838, [0, 38.45], 'y7'),
  yaxis7: yax(528, 552, [0, 10], [0, 10], ['0', '10'], 'x6'),
  yaxis8: yax(572, 596, [0, 42], [0, 42], ['0', '42'], 'x6'),
  yaxis9: yax(613, 639, [-1, 4.5], [-1, 4.5], ['-1', '4.5'], 'x6'),
  xaxis7: hidX(465, 838, [0, 80.2], 'y10'),
  yaxis10: yax(728, 753, [0, 10], [0, 10], ['0', '10'], 'x7'),
  yaxis11: yax(773, 797, [0, 14], [0, 14], ['0', '14'], 'x7'),
  yaxis12: yax(813, 840, [-1.5, 3], [-1.5, 3], ['-1.5', '3'], 'x7'),
  xaxis8: hidX(465, 838, [0, 214.4], 'y13'),
  yaxis13: yax(918, 944, [0, 8], [0, 8], ['0', '8'], 'x8'),
  yaxis14: yax(962, 986, [0, 12], [0, 12], ['0', '12'], 'x8'),
  yaxis15: yax(1004, 1028, [-1, 2.5], [-1, 2.5], ['-1', '2.5'], 'x8'),
  annotations: ann, shapes: shp, images: imgs
};

Plotly.newPlot('chart', data, layout, {staticPlot: true, displayModeBar: false});
</script>
</body>
</html>
